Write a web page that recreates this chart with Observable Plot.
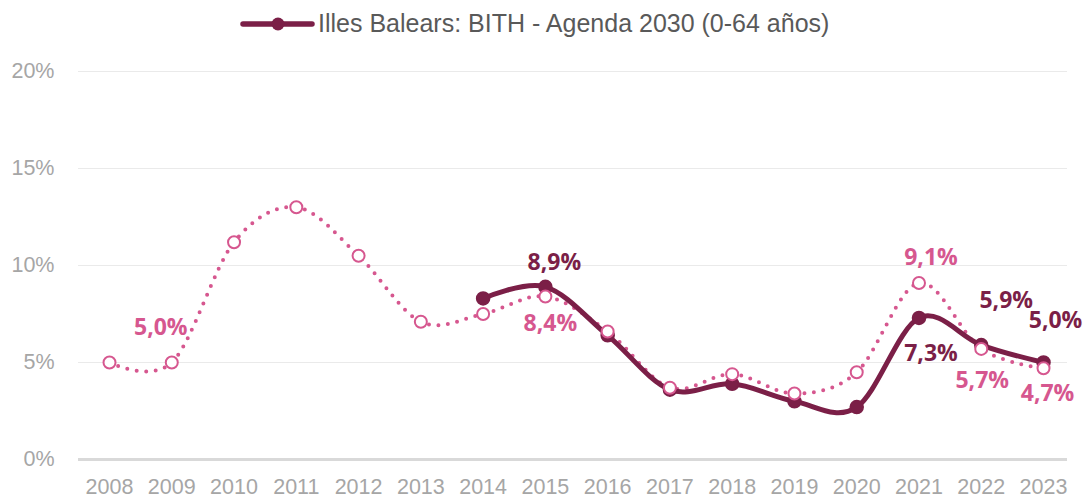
<!DOCTYPE html>
<html><head><meta charset="utf-8">
<script src="https://cdn.jsdelivr.net/npm/d3@7"></script>
<script src="https://cdn.jsdelivr.net/npm/@observablehq/plot@0.6"></script>
<style>
body{margin:0;background:#fff;font-family:"Liberation Sans",Arial,sans-serif}
#legend{position:relative;height:48px;width:1091px}
#legend .item{position:absolute;left:239px;top:9px;display:flex;align-items:center;font-size:25px;color:#595959;white-space:nowrap}
#legend svg{margin-right:3px}
</style>
</head><body>
<div id="legend"><div class="item"><svg width="76" height="28"><line x1="4" y1="14" x2="73" y2="14" stroke="#7b1f47" stroke-width="5.5" stroke-linecap="round"/><circle cx="39" cy="14" r="6.5" fill="#7b1f47"/></svg><span id="legendText"></span></div></div>
<div id="chart"></div>
<script>
const years = [2008,2009,2010,2011,2012,2013,2014,2015,2016,2017,2018,2019,2020,2021,2022,2023];
const referenceValues = [5.0,5.0,11.2,13.0,10.5,7.1,7.5,8.4,6.6,3.7,4.4,3.4,4.5,9.1,5.7,4.7];
const balearsYears = [2014,2015,2016,2017,2018,2019,2020,2021,2022,2023];
const balearsValues = [8.3,8.9,6.4,3.6,3.9,3.0,2.7,7.3,5.9,5.0];
const yTicks = [0,5,10,15,20];
const seriesName = "Illes Balears: BITH - Agenda 2030 (0-64 años)";
const referenceLabelYears = [2009,2015,2021,2022,2023];
const balearsLabelYears = [2015,2021,2022,2023];

document.getElementById("legendText").textContent = seriesName;

const DARK = "#7b1f47", PINK = "#d6578f";
const ref = years.map((y,i)=>({year:y, value:referenceValues[i]}));
const bal = balearsYears.map((y,i)=>({year:y, value:balearsValues[i]}));
const fmt = v => v.toFixed(1).replace(".", ",") + "%";

// label placement offsets (style, kept out of data arrays)
const refOffsets = {2009:[-11,-35],2015:[5,27],2021:[12,-25],2022:[1,32],2023:[4,25]};
const balOffsets = {2015:[9,-24],2021:[12,36],2022:[25,-44],2023:[12,-42]};

const refLabels = ref.filter(d=>referenceLabelYears.includes(d.year));
const balLabels = bal.filter(d=>balearsLabelYears.includes(d.year));

const labelStyle = {fontWeight:"bold", fontSize:23, fontFamily:"Open Sans", letterSpacing:"0.3px"};
const labelMarks = [];
for (const d of refLabels) {
  const [dx,dy] = refOffsets[d.year];
  labelMarks.push(Plot.text([d], {x:"year", y:"value", text:d=>fmt(d.value), dx, dy, fill:PINK, ...labelStyle}));
}
for (const d of balLabels) {
  const [dx,dy] = balOffsets[d.year];
  labelMarks.push(Plot.text([d], {x:"year", y:"value", text:d=>fmt(d.value), dx, dy, fill:DARK, ...labelStyle}));
}

const chart = Plot.plot({
  width: 1091,
  height: 452,
  marginLeft: 78,
  marginRight: 24,
  marginTop: 23,
  marginBottom: 41,
  style: {fontFamily:"Liberation Sans, Arial, sans-serif", background:"#fff", overflow:"visible"},
  x: {domain:[2007.502, 2023.385], ticks: years, tickFormat: d=>String(d), tickSize:0, label:null},
  y: {domain:[0,20], ticks: yTicks, tickFormat: d=>d+"%", tickSize:0, label:null},
  marks: [
    Plot.ruleY(yTicks.filter(t=>t>0), {stroke:"#eaeaea", strokeWidth:1}),
    Plot.ruleY([0], {stroke:"#d9d9d9", strokeWidth:3}),
    Plot.axisX({ticks: years, tickFormat:d=>String(d), tickSize:0, tickPadding:19, fontSize:21.5, fill:"#a6a6a6", label:null}),
    Plot.axisY({ticks: yTicks, tickFormat:d=>d+"%", tickSize:0, tickPadding:24, fontSize:21.5, fill:"#a6a6a6", label:null}),
    Plot.line(ref, {x:"year", y:"value", curve:"cardinal", stroke:PINK, strokeWidth:4, strokeDasharray:"0 9.5", strokeLinecap:"round"}),
    Plot.line(bal, {x:"year", y:"value", curve:"cardinal", stroke:DARK, strokeWidth:5}),
    Plot.dot(bal, {x:"year", y:"value", r:6.5, fill:DARK, stroke:DARK}),
    Plot.dot(ref, {x:"year", y:"value", r:6, fill:"white", stroke:PINK, strokeWidth:2}),
    ...labelMarks
  ]
});
document.getElementById("chart").appendChild(chart);
</script>
</body></html>
